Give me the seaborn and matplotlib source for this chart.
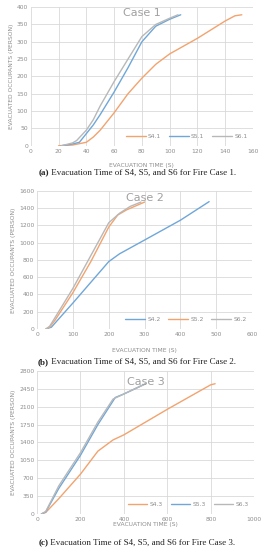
import seaborn as sns
import pandas as pd
from matplotlib import pyplot as plt

# Case 1
s41_t = [20, 30, 40, 45, 50, 60, 70, 80, 90, 95, 100, 120, 140, 147, 152]
s41_n = [0, 2, 10, 25, 45, 95, 150, 195, 235, 250, 265, 310, 360, 375, 378]
s51_t = [22, 30, 35, 40, 45, 50, 60, 70, 80, 90, 100, 108]
s51_n = [0, 5, 10, 35, 60, 90, 155, 225, 300, 345, 365, 378]
s61_t = [22, 30, 33, 40, 45, 50, 60, 70, 80, 90, 100, 106]
s61_n = [0, 8, 15, 45, 75, 115, 185, 250, 315, 350, 368, 378]

# Case 2
s42_t = [25, 40, 100, 200, 230, 300, 400, 480]
s42_n = [0, 20, 300, 780, 870, 1030, 1260, 1475]
s52_t = [25, 35, 50, 100, 150, 200, 225, 250, 300]
s52_n = [0, 20, 100, 420, 780, 1180, 1320, 1380, 1470]
s62_t = [25, 35, 50, 100, 150, 200, 230, 260, 290]
s62_n = [0, 30, 130, 470, 850, 1230, 1340, 1420, 1470]

# Case 3
s43_t = [20, 40, 100, 200, 280, 350, 400, 600, 800, 820]
s43_n = [0, 30, 300, 780, 1230, 1450, 1550, 2050, 2530, 2550]
s53_t = [20, 40, 100, 200, 280, 360, 400, 500]
s53_n = [0, 40, 500, 1150, 1750, 2280, 2350, 2550]
s63_t = [20, 40, 100, 200, 280, 350, 400, 500]
s63_n = [0, 50, 550, 1200, 1800, 2250, 2350, 2550]

ORANGE = "#F2A36E"
BLUE = "#6FA7D8"
GRAY = "#B8B8B8"
TXT = "#8C8C8C"

sns.set_style("white")

fig = plt.figure(figsize=(2.61, 5.5), dpi=100)
renderer = fig.canvas.get_renderer()

panels = [
    dict(pos=[0.118, 0.735, 0.851, 0.252], title="Case 1", title_y=0.957,
         series=[("S4.1", s41_t, s41_n, ORANGE), ("S5.1", s51_t, s51_n, BLUE), ("S6.1", s61_t, s61_n, GRAY)],
         xticks=range(0, 161, 20), yticks=range(0, 401, 50),
         tag="(a)", caption=" Evacuation Time of S4, S5, and S6 for Fire Case 1.", cap_y=0.6855, xl_y=0.700),
    dict(pos=[0.142, 0.402, 0.824, 0.251], title="Case 2", title_y=0.95,
         series=[("S4.2", s42_t, s42_n, BLUE), ("S5.2", s52_t, s52_n, ORANGE), ("S6.2", s62_t, s62_n, GRAY)],
         xticks=range(0, 601, 100), yticks=range(0, 1601, 200),
         tag="(b)", caption=" Evacuation Time of S4, S5, and S6 for Fire Case 2.", cap_y=0.342, xl_y=0.3636),
    dict(pos=[0.142, 0.0655, 0.832, 0.26], title="Case 3", title_y=0.92,
         series=[("S4.3", s43_t, s43_n, ORANGE), ("S5.3", s53_t, s53_n, BLUE), ("S6.3", s63_t, s63_n, GRAY)],
         xticks=range(0, 1001, 200), yticks=range(0, 2801, 350),
         tag="(c)", caption=" Evacuation Time of S4, S5, and S6 for Fire Case 3.", cap_y=0.0127, xl_y=0.0455),
]

for p in panels:
    ax = fig.add_axes(p["pos"])
    for name, t, n, c in p["series"]:
        df = pd.DataFrame({"t": t, "n": n})
        sns.lineplot(data=df, x="t", y="n", color=c, lw=1.0, label=name, ax=ax)
    ax.set_xlim(p["xticks"][0], p["xticks"][-1])
    ax.set_ylim(p["yticks"][0], p["yticks"][-1])
    ax.set_xticks(list(p["xticks"]))
    ax.set_yticks(list(p["yticks"]))
    ax.grid(True, color="#D9D9D9", lw=0.6)
    for s in ax.spines.values():
        s.set_visible(False)
    ax.tick_params(labelsize=4.3, colors=TXT, length=0, pad=2)
    ax.set_xlabel("")
    ax.set_ylabel("EVACUATED OCCUPANTS (PERSON)", fontsize=4.3, color=TXT, labelpad=2)
    ax.text(0.5, p["title_y"], p["title"], transform=ax.transAxes, ha="center", va="center",
            fontsize=8, color="#A0A0A0")
    ax.legend(loc="lower right", ncol=3, frameon=False, fontsize=4.3, labelcolor=TXT,
              handlelength=3.3, columnspacing=1.3, handletextpad=0.4, bbox_to_anchor=(1.0, 0.01))
    cx = p["pos"][0] + p["pos"][2] / 2
    fig.text(cx, p["xl_y"], "EVACUATION TIME (S)", ha="center", va="center", fontsize=4.3, color=TXT)

    # caption: bold tag followed by regular text, centred as a whole
    t1 = fig.text(0, p["cap_y"], p["tag"], ha="left", va="center", fontsize=6.5,
                  family="Liberation Serif", weight="bold", color="#222222")
    t2 = fig.text(0, p["cap_y"], p["caption"], ha="left", va="center", fontsize=6.5,
                  family="Liberation Serif", color="#222222")
    w1 = t1.get_window_extent(renderer).width / fig.bbox.width
    w2 = t2.get_window_extent(renderer).width / fig.bbox.width
    x0 = 0.5 - (w1 + w2) / 2 + 0.025
    t1.set_x(x0)
    t2.set_x(x0 + w1)

fig.savefig("out.png", dpi=100)
